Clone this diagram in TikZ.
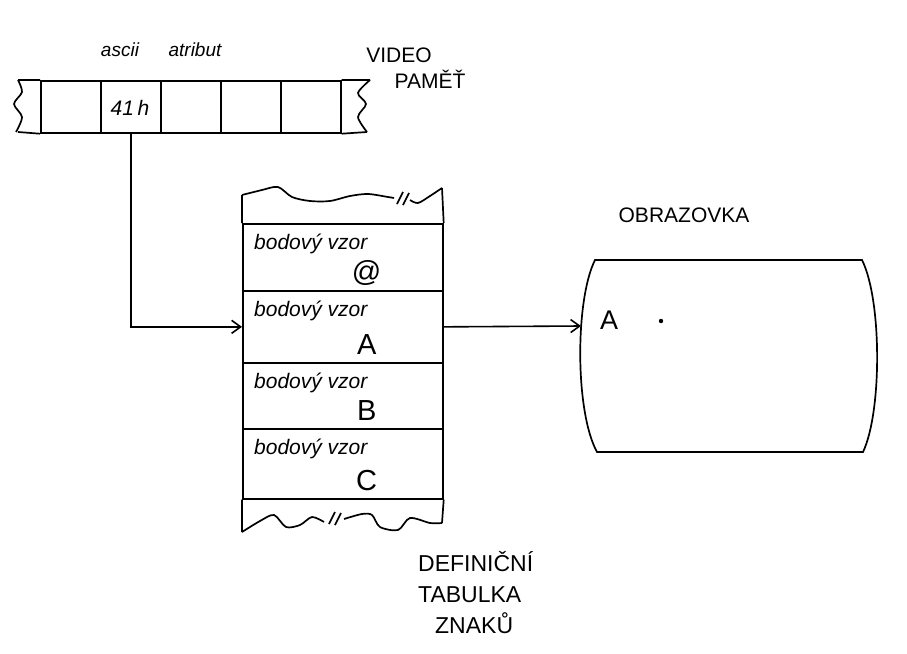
\documentclass[tikz,border=0pt]{standalone}
\usepackage{fontspec}
\setmainfont{Liberation Sans}
\usetikzlibrary{positioning,arrows.meta}

\begin{document}
\begin{tikzpicture}[x=1pt,y=-1pt,line width=1.7pt,
    cell/.style={draw,minimum width=60pt,minimum height=52pt,inner sep=0pt,anchor=north west},
    rowbox/.style={draw,minimum width=200pt,inner sep=0pt,anchor=north west},
    conn/.style={->,>={Straight Barb[length=9pt,width=13pt]},line width=1.6pt,draw},
    hand/.style={font=\itshape\fontsize{21}{24}\selectfont},
    small/.style={font=\itshape\fontsize{19}{21}\selectfont},
    big/.style={font=\fontsize{29}{32}\selectfont},
    caps/.style={font=\fontsize{21}{31}\selectfont,align=left}]
    \useasboundingbox (0,0) rectangle (907,653);

    % video memory
    \foreach \i in {1,...,5}
      \node[cell] (c\i) at ({40+60*(\i-1)},80) {};
    \node[hand] (hex) at (130,108) {41\,h};
    \draw (18,80) -- (c1.north west) (18,132) -- (c1.south west);
    \draw (c5.north east) -- (370,80) (c5.south east) -- (367,132);
    \draw plot[smooth] coordinates {(18,80) (22,92) (14,104) (22,117) (16,132)};
    \draw plot[smooth] coordinates {(370,80) (358,93) (366,104) (358,117) (367,132)};
    \node[small] (lasc) at (120,50) {ascii};
    \node[small] (latr) at (195,50) {atribut};
    \node[caps] (lvid) at (399,55) {VIDEO};
    \node[caps] (lpam) at (430,79) {PAMĚŤ};

    % character table
    \foreach \n/\t/\h/\l in {rat/223/67/@, rA/290/72/A, rB/362/66/B, rC/428/70/C} {
      \node[rowbox,minimum height=\h pt] (\n) at (242,\t) {};
      \node[hand,anchor=west] (\n t) at ([xshift=8pt,yshift=-21pt]\n.north west) {bodový vzor};
      \node[big] (\n l) at ([xshift=-77pt,yshift=19pt]\n.south east) {\l};
    }
    \draw (rat.north west) -- (242,195) (rat.north east) -- (442,188);
    \draw (rC.south west) -- (242,532) (rC.south east) -- (442,523);
    \draw plot[smooth,tension=0.5] coordinates {(242,195) (262,190) (278,187) (292,197) (310,201) (330,201) (350,196) (368,194) (388,197) (394,198)};
    \draw (397,204) -- (403,192) (403,205) -- (409,193);
    \draw plot[smooth,tension=0.5] coordinates {(410,200) (418,203) (430,196) (442,188)};
    \draw plot[smooth,tension=0.5] coordinates {(242,532) (260,521) (274,515) (286,527) (300,525) (312,517) (324,522)};
    \draw (329,524) -- (335,512) (335,525) -- (341,513);
    \draw plot[smooth,tension=0.5] coordinates {(344,519) (362,514) (372,515) (380,527) (398,530) (410,518) (430,523) (442,523)};
    \node[caps,font=\fontsize{23}{31}\selectfont] (ldef) at (414,593) [anchor=west] {DEFINIČNÍ\\TABULKA\\\hspace*{17pt}ZNAKŮ};

    % screen
    \draw (595,260) -- (862,260) .. controls (882,300) and (882,412) .. (863,452)
          -- (597,452) .. controls (575,412) and (575,300) .. (595,260) -- cycle;
    \coordinate (scr) at (581,326);
    \node[font=\fontsize{27}{30}\selectfont] (scrA) at (609,320) {A};
    \fill (661,321) circle (2.2);
    \node[caps] (lobr) at (684,215) {OBRAZOVKA};

    \path[conn] (c2.south) |- (rA.west);
    \path[conn] (rA.east) -- (scr);

\end{tikzpicture}
\end{document}
